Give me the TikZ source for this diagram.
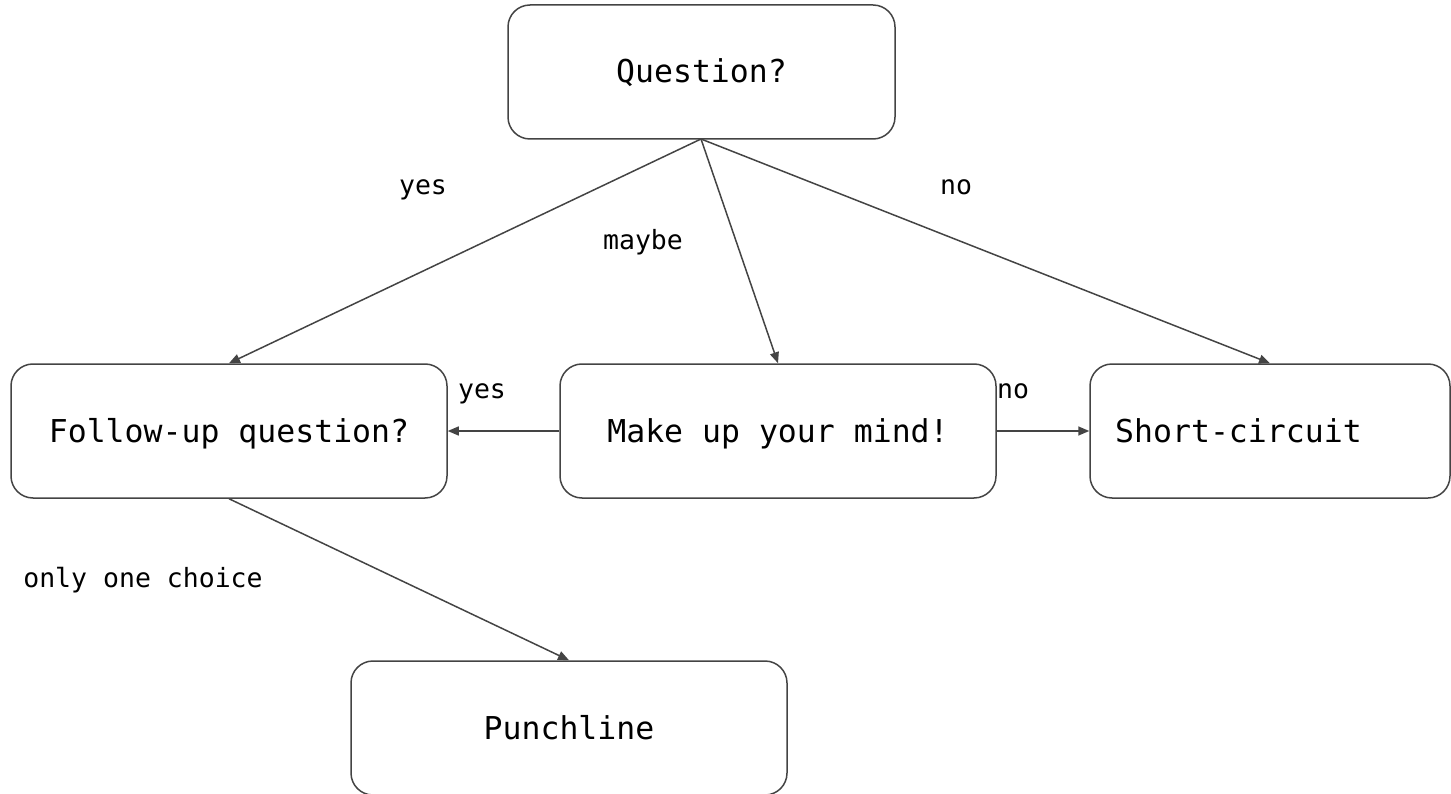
\documentclass[tikz,border=0pt]{standalone}
\usepackage{fontspec}
\setmonofont{DejaVu Sans Mono}
\usetikzlibrary{arrows.meta}
\definecolor{edgegray}{HTML}{444444}
\tikzset{
  box/.style={draw=edgegray, line width=1.5pt, rounded corners=22pt, minimum height=134pt, inner sep=0pt, text height=25pt, text depth=3pt, font=\ttfamily\fontsize{31.5}{36}\selectfont},
  conn/.style={draw=edgegray, line width=1.5pt, -{Triangle[length=11pt,width=9pt]}},
  lbl/.style={font=\ttfamily\fontsize{26.5}{30}\selectfont, inner sep=0pt, text height=19pt, text depth=1pt}
}
\begin{document}
\begin{tikzpicture}[x=1pt,y=-1pt]
\useasboundingbox (0,0) rectangle (1451,794);
\node[box, minimum width=387pt] (q) at (701.5,72) {Question?};
\node[box, minimum width=436pt] (f) at (229,431) {Follow-up question?};
\node[box, minimum width=436pt] (m) at (778,431) {Make up your mind!};
\node[box, minimum width=360pt] (s) at (1270,431) {};
\node[font=\ttfamily\fontsize{31.5}{36}\selectfont, inner sep=0pt, text height=25pt, text depth=3pt, anchor=west] (stext) at (1115,431) {Short-circuit};
\node[box, minimum width=436pt] (p) at (569,728) {Punchline};
\coordinate (qb) at (701,139);
\draw[conn] (qb) -- (f.north);
\draw[conn] (qb) -- (m.north);
\draw[conn] (qb) -- (s.north);
\draw[conn] (m.west) -- (f.east);
\draw[conn] (m.east) -- (s.west);
\draw[conn] (f.south) -- (p.north);
\node[lbl] (l1) at (423,186) {yes};
\node[lbl] (l2) at (643,241) {maybe};
\node[lbl] (l3) at (956,186) {no};
\node[lbl] (l4) at (482,389) {yes};
\node[lbl] (l5) at (1013,389) {no};
\node[lbl] (l6) at (143,578) {only one choice};
\end{tikzpicture}
\end{document}
